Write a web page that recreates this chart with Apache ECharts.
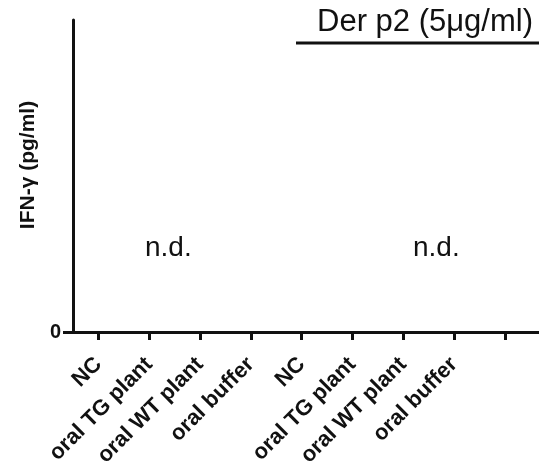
<!DOCTYPE html>
<html>
<head>
<meta charset="utf-8">
<script src="https://cdn.jsdelivr.net/npm/echarts@6/dist/echarts.min.js"></script>
<style>
html,body{margin:0;padding:0;background:#fff;}
#chart{width:539px;height:470px;}
</style>
</head>
<body>
<div id="chart"></div>
<script>
// Categories (last two slots are empty positions on the axis)
const categories = ['NC', 'oral TG plant', 'oral WT plant', 'oral buffer',
                    'NC', 'oral TG plant', 'oral WT plant', 'oral buffer', '', ''];
// IFN-γ values: not detected (n.d.) in every group
const ifnValues = [null, null, null, null, null, null, null, null, null, null];
const yTickValues = [0];
const yTitle = 'IFN-\u03b3 (pg/ml)';
const groupLabel = 'Der p2 (5\u03bcg/ml)';
const ndText = 'n.d.';

const chart = echarts.init(document.getElementById('chart'), null, {renderer: 'canvas'});
const ink = '#111';
chart.setOption({
  animation: false,
  backgroundColor: '#fff',
  grid: {left: 73, top: 20, width: 508, bottom: 138, containLabel: false, outerBoundsMode: 'none'},
  xAxis: {
    type: 'category',
    data: categories,
    boundaryGap: true,
    axisLine: {show: true, lineStyle: {color: ink, width: 3}},
    axisTick: {show: true, alignWithLabel: true, length: 8, interval: 0,
               lineStyle: {color: ink, width: 3}},
    axisLabel: {show: true, interval: 0, rotate: 45, margin: 29, color: ink,
                fontFamily: 'Liberation Sans, Arial, sans-serif', fontWeight: 'bold', fontSize: 22},
    splitLine: {show: false}
  },
  yAxis: {
    type: 'value',
    min: 0,
    max: 100,
    name: yTitle,
    nameLocation: 'middle',
    nameGap: 33,
    nameTextStyle: {color: ink, fontFamily: 'Liberation Sans, Arial, sans-serif',
                    fontWeight: 'bold', fontSize: 21, padding: [0, 0, 0, 22]},
    axisLine: {show: true, lineStyle: {color: ink, width: 3}},
    axisTick: {show: true, length: 10, customValues: yTickValues, lineStyle: {color: ink, width: 3}},
    axisLabel: {show: true, customValues: yTickValues, margin: 12, color: ink,
                fontFamily: 'Liberation Sans, Arial, sans-serif', fontWeight: 'bold', fontSize: 20},
    splitLine: {show: false}
  },
  series: [{
    type: 'bar',
    data: ifnValues,
    itemStyle: {color: '#000'}
  }],
  graphic: [
    {type: 'text', left: 145, top: 234,
     style: {text: ndText, fill: ink, font: '28px "Liberation Sans", Arial, sans-serif'}},
    {type: 'text', left: 413, top: 234,
     style: {text: ndText, fill: ink, font: '28px "Liberation Sans", Arial, sans-serif'}},
    {type: 'text', left: 317, top: 7,
     style: {text: groupLabel, fill: ink, font: '31px "Liberation Sans", Arial, sans-serif'}},
    {type: 'line', shape: {x1: 296, y1: 43, x2: 539, y2: 43},
     style: {stroke: ink, lineWidth: 3}}
  ]
});
</script>
</body>
</html>
